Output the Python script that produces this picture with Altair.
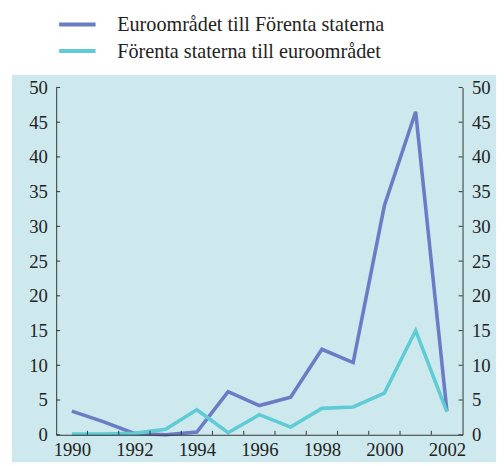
import altair as alt
import pandas as pd

years = list(range(1990, 2003))
series_names = ["Euroområdet till Förenta staterna", "Förenta staterna till euroområdet"]
euro_to_us = [3.4, 1.9, 0.2, 0.0, 0.4, 6.2, 4.2, 5.4, 12.3, 10.4, 33.0, 46.5, 3.4]
us_to_euro = [0.1, 0.1, 0.2, 0.8, 3.6, 0.3, 2.9, 1.1, 3.8, 4.0, 6.0, 15.0, 3.3]
colors = ["#6A7CC4", "#5FCBD4"]
x_label_values = [1990, 1992, 1994, 1996, 1998, 2000, 2002]
x_tick_values = [y + 0.5 for y in range(1990, 2002)]
y_tick_values = list(range(0, 55, 5))

FONT = "Liberation Serif"
TXT = "#222222"
AX = "#333333"

df = pd.DataFrame({
    "year": years * 2,
    "value": euro_to_us + us_to_euro,
    "series": [series_names[0]] * len(years) + [series_names[1]] * len(years),
})

W, H = 413, 353
xscale = alt.Scale(domain=[1989.5, 2002.5], nice=False, zero=False)
yscale = alt.Scale(domain=[0, 50], nice=False)

x_axis = alt.Axis(values=x_label_values, format="d", title=None, grid=False, ticks=False,
                  tickSize=0, labelPadding=6, domainColor=AX, labelFont=FONT,
                  labelFontSize=19, labelColor=TXT, labelFlush=False, zindex=2)


def y_axis(orient):
    return alt.Axis(values=y_tick_values, title=None, grid=False, ticks=False, tickSize=0,
                    labelPadding=9, domainColor=AX, orient=orient, labelFont=FONT,
                    labelFontSize=19, labelColor=TXT, labelFlush=False, zindex=2)


bg = alt.Chart(alt.Data(values=[{"a": 1}])).mark_rect(color="#CDE9EE").encode(
    x=alt.value(-45), x2=alt.value(447), y=alt.value(-13), y2=alt.value(381)
)

lines = alt.Chart(df).mark_line(strokeWidth=3.6).encode(
    x=alt.X("year:Q", scale=xscale, axis=x_axis),
    y=alt.Y("value:Q", scale=yscale, axis=y_axis("left")),
    color=alt.Color("series:N", scale=alt.Scale(domain=series_names, range=colors), legend=None),
    order=alt.Order("series:N"),
)

xt = pd.DataFrame({"year": x_tick_values})
xticks = alt.Chart(xt).mark_rule(color=AX, strokeWidth=1).encode(
    x=alt.X("year:Q", scale=xscale, axis=x_axis),
    y=alt.value(H), y2=alt.value(H - 4),
)

yt = pd.DataFrame({"value": y_tick_values})
yticks_left = alt.Chart(yt).mark_rule(color=AX, strokeWidth=1).encode(
    y=alt.Y("value:Q", scale=yscale, axis=None),
    x=alt.value(0), x2=alt.value(4),
)
yticks_right = alt.Chart(yt).mark_rule(color=AX, strokeWidth=1).encode(
    y=alt.Y("value:Q", scale=yscale, axis=y_axis("right")),
    x=alt.value(W - 4), x2=alt.value(W),
)

leg_df = pd.DataFrame({"series": series_names, "color": colors})
legend_layers = []
row_y = [-64, -37]
for i, name in enumerate(series_names):
    base = alt.Chart(leg_df).transform_filter(alt.datum.series == name)
    legend_layers.append(base.mark_rule(strokeWidth=4, color=colors[i]).encode(
        x=alt.value(3), x2=alt.value(40), y=alt.value(row_y[i])))
    legend_layers.append(base.mark_text(align="left", baseline="middle", font=FONT,
                                        fontSize=20.5, color=TXT).encode(
        x=alt.value(62), y=alt.value(row_y[i] + 1), text="series:N"))

chart = alt.layer(bg, lines, xticks, yticks_left, yticks_right, *legend_layers).resolve_axis(
    y="independent"
).properties(
    width=W, height=H,
    padding={"left": 49, "top": 77, "right": 34, "bottom": 28},
    autosize=alt.AutoSizeParams(type="none"),
    background="white",
).configure_view(stroke=None).configure_axis(
    labelFont=FONT, labelFontSize=19, labelColor=TXT
)

chart.save("out.html", embed_options={"renderer": "svg", "actions": False})
